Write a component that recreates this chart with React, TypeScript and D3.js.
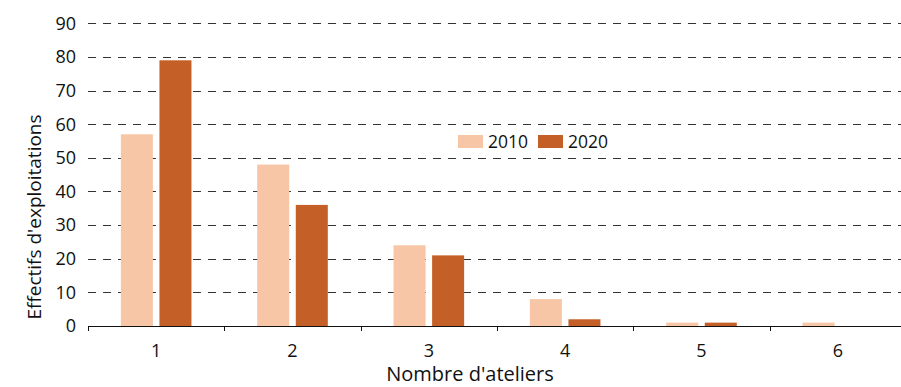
import React from "react";
import * as d3 from "d3";

const categories = ["1", "2", "3", "4", "5", "6"];
const seriesNames = ["2010", "2020"];
const values2010 = [57, 48, 24, 8, 1, 1];
const values2020 = [79, 36, 21, 2, 1, 0];
const yTicks = [0, 10, 20, 30, 40, 50, 60, 70, 80, 90];
const colors = ["#F7C6A6", "#C46027"];

const W = 901;
const H = 387;
const FONT = "'Open Sans', 'Noto Sans', sans-serif";

export default function App() {
  const left = 88;
  const right = 906;
  const top = 23.3;
  const bottom = 326;

  const x = d3.scaleBand<string>().domain(categories).range([left, right]).padding(0);
  const y = d3.scaleLinear().domain([0, 90]).range([bottom, top]);
  const inner = d3
    .scaleBand<string>()
    .domain(seriesNames)
    .range([-35.3, 35.3])
    .paddingInner(0.17);

  const data = [values2010, values2020];

  return (
    <svg
      width={W}
      height={H}
      style={{ position: "absolute", left: 0, top: 0, display: "block", background: "#fff" }}
      fontFamily={FONT}
    >
      {/* horizontal dashed gridlines */}
      {yTicks.slice(1).map((t) => (
        <line
          key={t}
          x1={left}
          x2={W}
          y1={Math.round(y(t)) + 0.5}
          y2={Math.round(y(t)) + 0.5}
          stroke="#333"
          strokeWidth={1}
          strokeDasharray="8,7"
        />
      ))}

      {/* bars */}
      {categories.map((c, i) => {
        const cx = (x(c) as number) + x.bandwidth() / 2;
        return seriesNames.map((s, k) => {
          const v = data[k][i];
          if (v <= 0) return null;
          return (
            <rect
              key={c + s}
              x={cx + (inner(s) as number)}
              y={y(v)}
              width={inner.bandwidth()}
              height={bottom - y(v)}
              fill={colors[k]}
            />
          );
        });
      })}

      {/* x axis line and ticks */}
      <line x1={left} x2={W} y1={bottom + 0.5} y2={bottom + 0.5} stroke="#111" strokeWidth={1} />
      {categories.map((c) => (
        <line
          key={"t" + c}
          x1={Math.round(x(c) as number) + 0.5}
          x2={Math.round(x(c) as number) + 0.5}
          y1={bottom}
          y2={bottom + 5}
          stroke="#111"
          strokeWidth={1}
        />
      ))}

      {/* y tick labels */}
      {yTicks.map((t) => (
        <text
          key={"y" + t}
          x={76}
          y={y(t)}
          dy="0.35em"
          textAnchor="end"
          fontSize={18}
          fill="#111"
        >
          {t}
        </text>
      ))}

      {/* x tick labels */}
      {categories.map((c) => (
        <text
          key={"x" + c}
          x={(x(c) as number) + x.bandwidth() / 2}
          y={357}
          textAnchor="middle"
          fontSize={18}
          fill="#111"
        >
          {c}
        </text>
      ))}

      {/* axis titles */}
      <text x={470} y={381} textAnchor="middle" fontSize={20} fill="#111">
        Nombre d'ateliers
      </text>
      <text
        transform={`translate(41,217) rotate(-90)`}
        textAnchor="middle"
        fontSize={19}
        fill="#111"
      >
        Effectifs d'exploitations
      </text>

      {/* legend */}
      {seriesNames.map((s, k) => {
        const lx = k === 0 ? 458 : 538;
        return (
          <g key={"lg" + s}>
            <rect x={lx} y={135} width={25} height={13} fill={colors[k]} />
            <text x={lx + 30} y={148} fontSize={17.5} fill="#111">
              {s}
            </text>
          </g>
        );
      })}
    </svg>
  );
}
